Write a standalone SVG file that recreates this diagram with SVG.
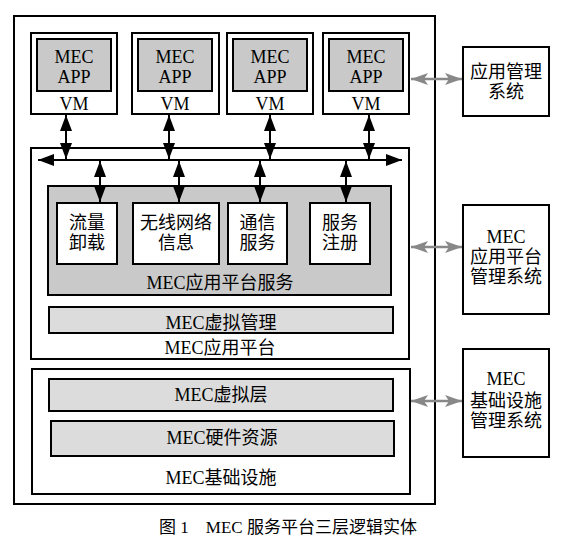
<svg xmlns="http://www.w3.org/2000/svg" width="577" height="559" viewBox="0 0 577 559">
<defs>
<marker id="ab" viewBox="0 0 16 12" refX="16" refY="6" markerWidth="16" markerHeight="12" markerUnits="userSpaceOnUse" orient="auto-start-reverse"><path d="M0,0 L16,6 L0,12 z" fill="#000"/></marker>
<marker id="ag" viewBox="0 0 17 12" refX="17" refY="6" markerWidth="17" markerHeight="12" markerUnits="userSpaceOnUse" orient="auto-start-reverse"><path d="M0,0 L17,6 L0,12 L4,6 z" fill="#888"/></marker>
</defs>
<style>
.b{fill:#fff;stroke:#000;stroke-width:2}
.g1{fill:#c9c9c9;stroke:#000;stroke-width:2}
.g2{fill:#dcdcdc;stroke:#000;stroke-width:2}
text{font-family:"Liberation Serif","Noto Sans CJK SC",serif;font-size:18px;text-anchor:middle;fill:#000}
.ca{stroke:#000;stroke-width:2;fill:none;marker-start:url(#ab);marker-end:url(#ab)}
.cg{stroke:#888;stroke-width:2.5;fill:none;marker-start:url(#ag);marker-end:url(#ag)}
</style>
<rect width="577" height="559" fill="#fff"/>
<g id="outer"><rect class="b" x="14" y="16" width="421" height="488"/></g>
<g id="vm1"><rect class="b" x="31" y="33" width="86" height="81"/><rect class="g1" x="37" y="39" width="74" height="52"/><text x="74" y="63">MEC</text><text x="74" y="83">APP</text><text x="74" y="110">VM</text></g>
<g id="vm2"><rect class="b" x="132" y="33" width="87" height="81"/><rect class="g1" x="138" y="39" width="74" height="52"/><text x="175" y="63">MEC</text><text x="175" y="83">APP</text><text x="175" y="110">VM</text></g>
<g id="vm3"><rect class="b" x="227" y="33" width="86" height="81"/><rect class="g1" x="233" y="39" width="74" height="52"/><text x="270" y="63">MEC</text><text x="270" y="83">APP</text><text x="270" y="110">VM</text></g>
<g id="vm4"><rect class="b" x="323" y="33" width="86" height="81"/><rect class="g1" x="329" y="39" width="74" height="52"/><text x="366" y="63">MEC</text><text x="366" y="83">APP</text><text x="366" y="110">VM</text></g>
<g id="platform"><rect class="b" x="31" y="148" width="378" height="211"/><text x="220" y="354">MEC应用平台</text></g>
<g id="services"><rect class="g1" x="48" y="186" width="343" height="109"/><text x="220" y="289">MEC应用平台服务</text></g>
<g id="s1"><rect class="b" x="57" y="203" width="60" height="61"/><text x="87" y="229">流量</text><text x="87" y="249">卸载</text></g>
<g id="s2"><rect class="b" x="133" y="203" width="86" height="61"/><text x="176" y="229">无线网络</text><text x="176" y="249">信息</text></g>
<g id="s3"><rect class="b" x="228" y="203" width="59" height="61"/><text x="257.5" y="229">通信</text><text x="257.5" y="249">服务</text></g>
<g id="s4"><rect class="b" x="310" y="203" width="60" height="61"/><text x="340" y="229">服务</text><text x="340" y="249">注册</text></g>
<g id="virtmgmt"><rect class="g2" x="49" y="307" width="344" height="26"/><text x="221" y="329">MEC虚拟管理</text></g>
<g id="infra"><rect class="b" x="32" y="369" width="378" height="125"/><text x="221" y="484">MEC基础设施</text></g>
<g id="virtlayer"><rect class="g2" x="49" y="379" width="344" height="32"/><text x="221" y="401">MEC虚拟层</text></g>
<g id="hw"><rect class="g2" x="51" y="421" width="343" height="35"/><text x="222" y="444">MEC硬件资源</text></g>
<g id="m1"><rect class="b" x="463" y="47" width="86" height="69"/><text x="506" y="78">应用管理</text><text x="506" y="98">系统</text></g>
<g id="m2"><rect class="b" x="463" y="205" width="86" height="109"/><text x="506" y="243">MEC</text><text x="506" y="263">应用平台</text><text x="506" y="283">管理系统</text></g>
<g id="m3"><rect class="b" x="463" y="349" width="86" height="108"/><text x="506" y="385">MEC</text><text x="506" y="407">基础设施</text><text x="506" y="427">管理系统</text></g>
<g id="connectors">
<line class="ca" x1="38" y1="160" x2="402" y2="160"/>
<line class="ca" x1="66" y1="115" x2="66" y2="159"/>
<line class="ca" x1="169" y1="115" x2="169" y2="159"/>
<line class="ca" x1="270" y1="115" x2="270" y2="159"/>
<line class="ca" x1="369" y1="115" x2="369" y2="159"/>
<line class="ca" x1="100" y1="161" x2="100" y2="202"/>
<line class="ca" x1="179" y1="161" x2="179" y2="202"/>
<line class="ca" x1="260" y1="161" x2="260" y2="202"/>
<line class="ca" x1="346" y1="161" x2="346" y2="202"/>
<line class="cg" x1="411" y1="79" x2="462" y2="79"/>
<line class="cg" x1="411" y1="247" x2="462" y2="247"/>
<line class="cg" x1="411" y1="401" x2="462" y2="401"/>
</g>
<text x="288" y="533" style="font-size:17px">图 1　MEC 服务平台三层逻辑实体</text>
</svg>
